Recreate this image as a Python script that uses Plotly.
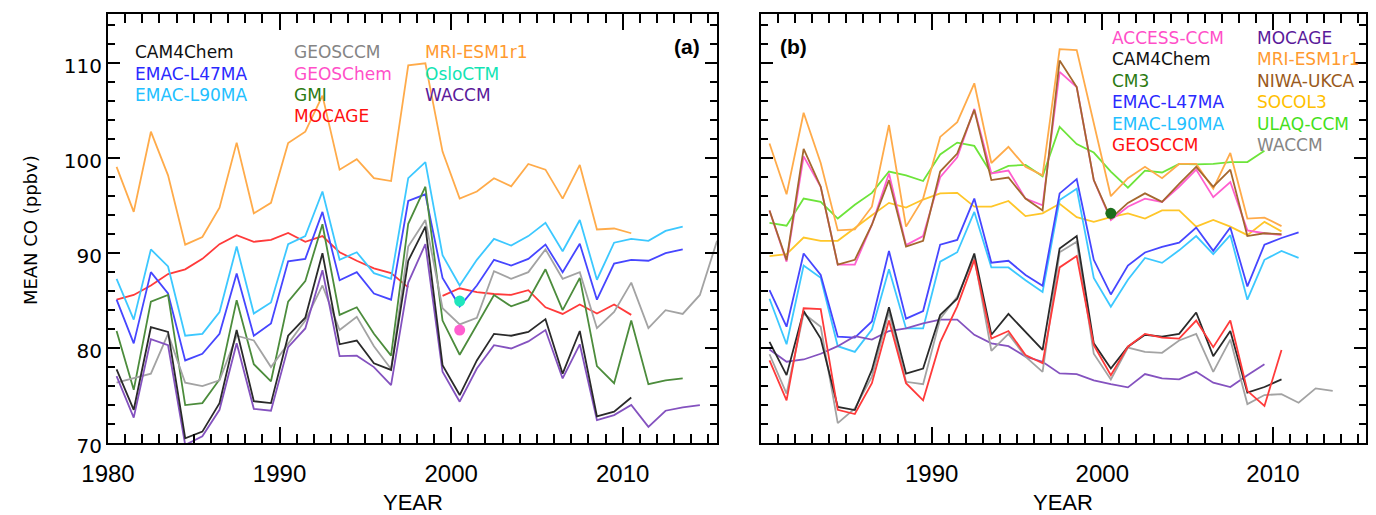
import plotly.graph_objects as go

# ---------------- Panel (a) ----------------
cam4chem_a = [77.75, 73.5, 82.2, 81.7, 70.5, 71.2, 74.2, 81.9, 74.4, 74.2, 81.3, 83.2, 90.0, 80.4, 80.8, 78.4,
              77.7, 89.2, 92.8, 78.2, 75.05, 78.7, 81.5, 81.3, 81.7, 83.05, 77.3, 81.8, 72.8, 73.3, 74.8]
geosccm_a = [76.35, 76.8, 77.3, 81.5, 76.35, 76.0, 76.6, 81.3, 80.8, 78.0, 80.5, 82.9, 86.6, 81.9, 83.3, 80.2,
             77.8, 90.7, 93.5, 84.2, 82.5, 83.2, 88.1, 87.3, 88.0, 90.4, 87.3, 88.0, 82.1, 83.8, 86.9, 82.1,
             84.0, 83.6, 85.6, 91.3]
mri_a = [99.1, 94.35, 102.8, 98.2, 90.9, 91.7, 94.8, 101.65, 94.2, 95.3, 101.6, 102.8, 106.6, 98.8, 99.9, 97.9,
         97.6, 109.8, 110.0, 100.7, 95.75, 96.5, 97.9, 97.05, 99.4, 98.8, 95.75, 99.3, 92.5, 92.6, 92.1]
emac47_a = [85.1, 80.5, 88.0, 85.75, 78.7, 79.4, 81.5, 87.85, 81.3, 82.6, 89.15, 89.4, 94.35, 87.15, 88.0, 85.75,
            85.1, 95.5, 96.2, 87.4, 84.4, 86.6, 89.3, 88.7, 89.4, 90.9, 88.0, 91.0, 85.1, 88.9, 89.3, 89.2,
            90.0, 90.4]
emac90_a = [87.3, 83.0, 90.4, 88.6, 81.3, 81.5, 83.8, 90.7, 83.65, 84.8, 90.95, 91.8, 96.5, 89.3, 90.1, 87.9,
            87.3, 97.9, 99.6, 89.8, 86.6, 89.3, 91.5, 90.8, 91.8, 93.2, 90.2, 93.5, 87.2, 91.1, 91.5, 91.3,
            92.35, 92.8]
gmi_a = [81.8, 75.6, 84.9, 85.6, 74.0, 74.2, 76.7, 85.05, 78.3, 76.5, 84.9, 87.05, 93.05, 83.5, 84.3, 81.5,
         79.2, 93.1, 97.0, 82.9, 79.3, 82.4, 85.6, 84.4, 85.05, 88.3, 84.0, 87.4, 78.1, 76.3, 82.9, 76.2,
         76.6, 76.8]
mocage_a = [85.1, 85.6, 86.6, 87.8, 88.3, 89.4, 90.95, 91.9, 91.2, 91.4, 92.14, 91.2, 91.8, 90.1, 89.2, 88.4,
            87.9, 86.4, None, 85.5, 86.3, 85.9, 85.7, 85.6, 86.1, 84.3, 83.6, 84.6, 83.65, 84.6, 83.5]
waccm_a = [77.05, 72.67, 80.95, 80.3, 69.8, 70.7, 73.5, 80.5, 73.6, 73.4, 80.1, 82.07, 88.2, 79.15, 79.2, 78.0,
           76.1, 86.9, 90.95, 77.5, 74.35, 77.85, 80.3, 79.96, 80.7, 81.9, 76.8, 80.4, 72.4, 72.94, 74.0, 71.7,
           73.4, 73.75, 74.0]
geoschem_year, geoschem_val = [2000], [81.9]
osloctm_year, osloctm_val = [2000], [84.95]

# ---------------- Panel (b) ----------------
access_b = [94.5, 89.1, 100.2, 97.0, 88.8, 88.8, 93.0, 98.4, 90.85, 91.8, 98.0, 100.1, 105.2, 98.4, 98.7, 95.75,
            95.05, 109.1, 107.5, 97.7, 93.5, 94.9, 95.75, 95.4, 97.0, 98.8, 95.9, 97.5, 92.4, 92.1, 91.9]
cam4chem_b = [80.66, 77.15, 83.9, 81.0, 73.8, 73.47, 77.7, 84.3, 77.3, 77.85, 83.5, 85.2, 89.96, 81.4, 83.6, 81.7,
              79.8, 90.5, 91.8, 80.5, 77.85, 80.15, 81.4, 81.2, 81.5, 83.75, 79.15, 81.8, 75.3, 75.9, 76.7]
cm3_year, cm3_val = [2000], [94.2]
emac47_b = [86.1, 82.25, 89.96, 87.7, 81.2, 81.1, 82.8, 90.24, 83.1, 83.9, 90.9, 91.4, 95.75, 89.0, 89.2, 87.7,
            86.56, 96.3, 97.8, 89.3, 85.65, 88.7, 90.07, 90.66, 91.1, 92.7, 90.24, 92.7, 86.5, 90.9, 91.6, 92.2]
emac90_b = [85.2, 80.4, 88.7, 87.4, 80.2, 79.6, 81.96, 88.3, 82.07, 82.07, 89.1, 90.1, 94.35, 88.5, 88.5, 87.15,
            85.9, 95.6, 96.8, 87.4, 84.35, 87.2, 89.5, 88.98, 90.3, 91.8, 89.9, 91.9, 85.1, 89.3, 90.24, 89.5]
geosccm_b = [78.7, 74.5, 84.2, 84.1, 73.5, 73.05, 76.3, 82.9, 76.3, 74.5, 80.6, 84.4, 89.3, 81.0, 81.8, 79.26,
             78.4, 88.5, 89.7, 80.3, 77.15, 80.15, 81.5, 81.1, 81.0, 82.9, 80.1, 82.9, 75.5, 73.9, 79.8]
mocage_b = [79.85, 78.56, 78.8, 79.4, 80.2, 81.26, 80.9, 81.8, 82.07, 82.6, 83.0, 83.0, 81.4, 80.5, 80.2, 79.1,
            78.56, 77.33, 77.26, 76.6, 76.2, 75.86, 77.26, 76.8, 76.7, 77.5, 76.35, 75.9, 77.15, 78.3]
mri_b = [101.55, 96.2, 104.8, 99.5, 92.4, 92.5, 94.9, 103.5, 92.8, 95.75, 102.25, 103.8, 107.9, 99.5, 101.2, 99.1,
         98.2, 111.5, 111.4, 103.8, 96.0, 97.9, 99.1, 97.9, 99.4, 99.4, 96.8, 100.56, 93.65, 93.75, 92.85]
niwa_b = [94.5, 89.26, 101.0, 97.0, 88.8, 89.3, 93.0, 97.7, 90.7, 91.3, 98.6, 100.5, 105.1, 97.7, 97.97, 95.75,
          94.5, 110.3, 107.5, 97.7, 93.65, 95.3, 96.3, 95.4, 97.3, 99.1, 97.0, 98.8, 91.8, 92.1, 92.0]
socol3_b = [89.7, 89.9, 91.65, 91.3, 91.3, 92.7, 94.0, 95.3, 94.8, 95.65, 96.3, 96.35, 94.9, 94.9, 95.5, 93.9,
            94.2, 95.2, 93.8, 93.3, 93.8, 94.2, 93.65, 94.5, 94.5, 92.8, 93.5, 92.8, 91.9, 93.3, 92.3]
ulaq_b = [93.2, 92.9, 95.75, 95.4, 93.65, 95.1, 96.35, 98.6, 98.2, 97.6, 100.4, 101.65, 101.3, 98.4, 99.2, 99.3,
          98.1, 103.3, 101.5, 100.6, 98.6, 96.9, 98.7, 98.5, 99.4, 99.35, 99.4, 99.6, 99.6, 100.8]
waccm_b = [79.35, 75.2, 83.65, 82.25, 72.1, 73.65, 77.0, 83.8, 76.45, 76.2, 83.1, 85.4, 89.6, 79.7, 81.5, 79.1,
           77.5, 90.1, 91.2, 79.4, 76.7, 80.06, 79.6, 79.5, 80.8, 81.5, 77.5, 80.9, 74.1, 75.05, 75.15, 74.24,
           75.75, 75.5]

FIRST_YEAR = 1980
x_ticks = [1980, 1990, 2000, 2010]
y_ticks = [70, 80, 90, 100, 110]

# colours
BLACK, GRAY, ORANGE = "#2a2a2a", "#a3a3a3", "#ffab4a"
BLUE, CYAN, GREEN = "#4646ff", "#3cc8ff", "#4c8c3c"
RED, PURPLE, MAGENTA = "#ff3a3a", "#8452bf", "#ff5fcf"
BROWN, YELLOW, LGREEN = "#a4672e", "#ffc629", "#6de43a"
TURQ, DKGREEN = "#1fe6bd", "#1c6e1c"


def mid_years(vals):
    # annual means plotted at mid-year
    return [FIRST_YEAR + i + 0.5 for i in range(len(vals))]


fig = go.Figure()


def add_line(vals, color, ax):
    fig.add_trace(go.Scatter(x=mid_years(vals), y=vals, mode="lines",
                             line=dict(color=color, width=1.8),
                             xaxis="x" + ax, yaxis="y" + ax, showlegend=False,
                             connectgaps=False, hoverinfo="skip"))


def add_dot(years, vals, color, ax):
    fig.add_trace(go.Scatter(x=[y + 0.5 for y in years], y=vals, mode="markers",
                             marker=dict(color=color, size=11),
                             xaxis="x" + ax, yaxis="y" + ax, showlegend=False))


# panel (a) lines
for vals, col in [(mri_a, ORANGE), (mocage_a, RED), (emac90_a, CYAN), (emac47_a, BLUE),
                  (gmi_a, GREEN), (geosccm_a, GRAY), (waccm_a, PURPLE), (cam4chem_a, BLACK)]:
    add_line(vals, col, "")
add_dot(osloctm_year, osloctm_val, TURQ, "")
add_dot(geoschem_year, geoschem_val, MAGENTA, "")

# panel (b) lines
for vals, col in [(ulaq_b, LGREEN), (socol3_b, YELLOW), (mri_b, ORANGE), (access_b, MAGENTA),
                  (niwa_b, BROWN), (emac90_b, CYAN), (emac47_b, BLUE), (mocage_b, PURPLE),
                  (waccm_b, GRAY), (cam4chem_b, BLACK), (geosccm_b, RED)]:
    add_line(vals, col, "2")
add_dot(cm3_year, cm3_val, DKGREEN, "2")

# layout geometry (pixels)
W, H = 1376, 515
L, R, T, B = 108, 8, 14, 72
PW, PH = W - L - R, H - T - B


def px(xp):
    return (xp - L) / PW


def py(yp):
    return (H - B - yp) / PH


xfont = dict(family="Liberation Sans Narrow, Arial Narrow, Liberation Sans, Arial", size=24, color="black")
yfont = dict(family="DejaVu Sans, Arial", size=20, color="black")

common_x = dict(showline=True, linecolor="black", linewidth=2, mirror="ticks",
                ticks="inside", ticklen=16, tickwidth=2, tickcolor="black",
                tickvals=x_ticks, showgrid=False, zeroline=False, tickfont=xfont,
                ticklabelstandoff=8,
                minor=dict(ticks="inside", ticklen=9, tickwidth=1.5, tickcolor="black",
                           dtick=1, tick0=FIRST_YEAR, showgrid=False))
common_y = dict(showline=True, linecolor="black", linewidth=2, mirror="ticks",
                ticks="inside", ticklen=12, tickwidth=2, tickcolor="black",
                tickvals=y_ticks, showgrid=False, zeroline=False, tickfont=yfont,
                ticklabelshift=3, range=[70, 115.2],
                minor=dict(ticks="inside", ticklen=7, tickwidth=1.5, tickcolor="black",
                           dtick=2, tick0=70, showgrid=False))

fig.update_layout(
    width=W, height=H, margin=dict(l=L, r=R, t=T, b=B),
    paper_bgcolor="white", plot_bgcolor="white", showlegend=False,
    xaxis=dict(common_x, domain=[0, px(718)], range=[1980, 2015.5], anchor="y",
               ticktext=["1980", "1990", "2000", "2010"]),
    yaxis=dict(common_y, domain=[0, 1], anchor="x"),
    xaxis2=dict(common_x, domain=[px(762), 1], range=[1980, 2015.45], anchor="y2",
                ticktext=["", "1990", "2000", "2010"]),
    yaxis2=dict(common_y, domain=[0, 1], anchor="x2", showticklabels=False),
)

ann = []
lfont = "DejaVu Sans, Verdana, Arial"


def label(text, xp, yp, color, size=17, fam=lfont, **kw):
    ann.append(dict(text=text, x=px(xp), y=py(yp), xref="paper", yref="paper",
                    xanchor=kw.get("xanchor", "left"), yanchor="middle", showarrow=False,
                    textangle=kw.get("angle", 0),
                    font=dict(family=fam, size=size, color=color)))


# panel (a) model names
for i, (t, c) in enumerate([("CAM4Chem", "#111111"), ("EMAC-L47MA", "#2a2aff"), ("EMAC-L90MA", "#22c0ff")]):
    label(t, 133, 52 + i * 21.5, c)
for i, (t, c) in enumerate([("GEOSCCM", "#858585"), ("GEOSChem", "#ff4fc8"), ("GMI", "#2b7a12"),
                            ("MOCAGE", "#ff1010")]):
    label(t, 292, 52 + i * 21.5, c)
for i, (t, c) in enumerate([("MRI-ESM1r1", "#ff9a30"), ("OsloCTM", "#12e4b4"), ("WACCM", "#5a1a9a")]):
    label(t, 424, 52 + i * 21.5, c)

# panel (b) model names
for i, (t, c) in enumerate([("ACCESS-CCM", "#ff4fc8"), ("CAM4Chem", "#111111"), ("CM3", "#2b7a12"),
                            ("EMAC-L47MA", "#2a2aff"), ("EMAC-L90MA", "#22c0ff"), ("GEOSCCM", "#ff1010")]):
    label(t, 1112, 38 + i * 21.4, c)
for i, (t, c) in enumerate([("MOCAGE", "#5a1a9a"), ("MRI-ESM1r1", "#ff9a30"), ("NIWA-UKCA", "#9a5a20"),
                            ("SOCOL3", "#ffc000"), ("ULAQ-CCM", "#44e01a"), ("WACCM", "#858585")]):
    label(t, 1257, 38 + i * 21.4, c)

# panel tags
label("<b>(a)</b>", 688, 47, "black", size=21, fam="Liberation Sans, Arial", xanchor="center")
label("<b>(b)</b>", 795, 47, "black", size=21, fam="Liberation Sans, Arial", xanchor="center")

# axis titles
label("YEAR", 413, 502, "black", size=22, fam=xfont["family"], xanchor="center")
label("YEAR", 1065, 502, "black", size=22, fam=xfont["family"], xanchor="center")
label("MEAN CO (ppbv)", 30, 230, "black", size=18, fam="DejaVu Sans, Arial", xanchor="center", angle=-90)

fig.update_layout(annotations=ann)
fig.write_html("out.html")
